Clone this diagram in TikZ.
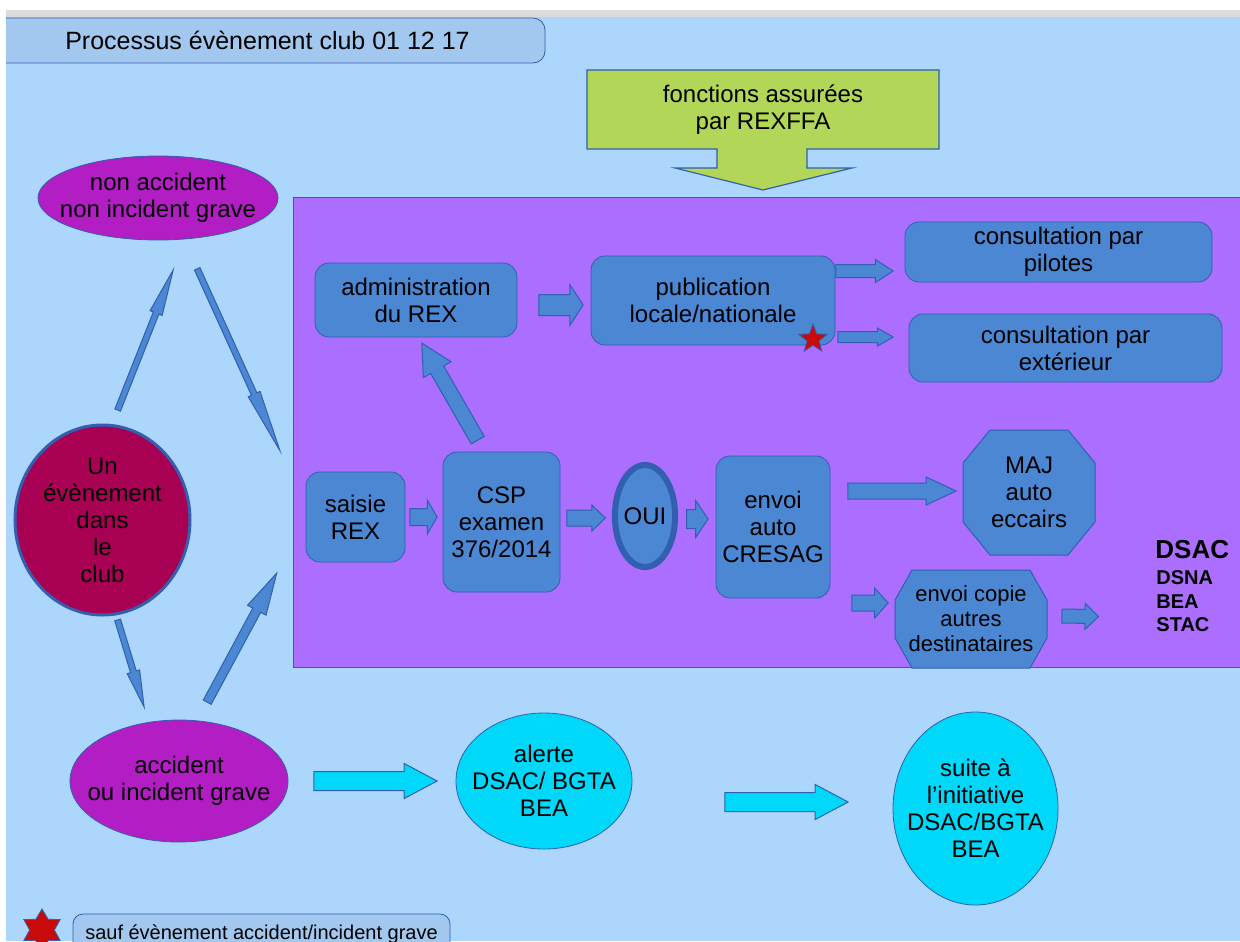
\documentclass[tikz,border=0pt]{standalone}
\usepackage{fontspec}
\setmainfont{Liberation Sans}
\usetikzlibrary{shapes.geometric,shapes.arrows,calc}

\definecolor{fond}{RGB}{173,214,252}
\definecolor{titrefond}{RGB}{162,200,240}
\definecolor{trait}{RGB}{50,95,175}
\definecolor{vert}{RGB}{178,214,88}
\definecolor{violet}{RGB}{171,110,255}
\definecolor{mauve}{RGB}{178,30,195}
\definecolor{bordeaux}{RGB}{168,0,82}
\definecolor{bleubox}{RGB}{75,135,210}
\definecolor{cyanclair}{RGB}{0,216,250}
\definecolor{rougeetoile}{RGB}{200,10,10}

\tikzset{
  boite/.style={draw=trait, fill=bleubox, rounded corners=7pt, align=center, inner sep=0pt},
  ovale/.style={ellipse, draw=trait, align=center, inner sep=0pt},
  fl/.style={single arrow, draw=trait, fill=bleubox, line width=0.5pt, anchor=tail,
    inner xsep=0pt, inner ysep=4pt, single arrow head extend=3.5pt, single arrow tip angle=90},
  fin/.style={fl, inner ysep=1.25pt, single arrow head extend=1.75pt},
  flcyan/.style={fl, fill=cyanclair, inner ysep=4.5pt, single arrow head extend=4pt, single arrow tip angle=56},
  etoile/.style={star, fill=rougeetoile, draw=trait, line width=0.4pt, inner sep=0pt},
}

% block arrow from #2 to #3
\newcommand\fleche[3][]{%
  \path let \p1=(#2), \p2=(#3),
    \n1={veclen(\x2-\x1,\y2-\y1)}, \n2={atan2(\y2-\y1,\x2-\x1)} in
    (\p1) node[fl,#1,minimum height=\n1,rotate=\n2] {};}

\begin{document}
\begin{tikzpicture}[x=0.5pt, y=-0.5pt, every node/.style={font=\fontsize{12}{13.5}\selectfont}]
    \useasboundingbox (0,0) rectangle (1240,941);
    \fill[fond] (0,0) rectangle (1240,941);

    % Title
    \node[draw=trait, fill=titrefond, rounded corners=6pt, minimum width=277.5pt, minimum height=22.5pt,
      font=\fontsize{12.5}{14}\selectfont] (titre) at (267.5,40.5) {Processus évènement club 01 12 17};

    % REXFFA block
    \filldraw[fill=vert, draw=trait, line width=0.6pt] (587,70) -- (939,70) -- (939,149) -- (807,149)
      -- (807,168) -- (852,168) -- (763,190) -- (675,168) -- (717,168) -- (717,149) -- (587,149) -- cycle;
    \node[align=center] (rexffa) at (763,109.5) {fonctions assurées\\par REXFFA};

    % Purple panel
    \node[draw=trait, fill=violet, minimum width=478.5pt, minimum height=235pt] (panel) at (771.5,432) {};

    % Left column
    \node[ovale, fill=mauve, inner xsep=-6.6pt, minimum width=120pt, minimum height=42pt] (nonacc) at (158,198)
      {non accident\\non incident grave};
    \node[ovale, fill=bordeaux, line width=1.5pt, minimum width=87.5pt, minimum height=95pt] (event) at (102.5,520)
      {Un\\évènement\\dans\\le\\club};
    \node[ovale, fill=mauve, inner xsep=-7.2pt, minimum width=109pt, minimum height=61pt] (acc) at (179,781)
      {accident\\ou incident grave};

    % Bottom row
    \node[ovale, fill=cyanclair, inner xsep=-5.2pt, minimum width=88pt, minimum height=68pt] (alerte) at (544,781)
      {alerte\\DSAC/ BGTA\\BEA};
    \node[ovale, fill=cyanclair, inner xsep=-5.5pt, minimum width=82.5pt, minimum height=96.5pt] (suite) at (975.5,808.5)
      {suite à\\l'initiative\\DSAC/BGTA\\BEA};

    % Inside the panel
    \node[boite, minimum width=101pt, minimum height=37pt] (adm) at (416,300) {administration\\du REX};
    \node[boite, minimum width=122pt, minimum height=44.5pt] (pub) at (713,300.5) {publication\\locale/nationale};
    \node[boite, minimum width=153.5pt, minimum height=30pt] (pil) at (1058.5,252) {consultation par\\pilotes};
    \node[boite, minimum width=156.5pt, minimum height=34pt] (ext) at (1065.5,348) {consultation par\\extérieur};
    \node[boite, minimum width=49.5pt, minimum height=45pt] (saisie) at (355.5,517) {saisie\\REX};
    \node[boite, minimum width=58.5pt, minimum height=70pt] (csp) at (501.5,522) {CSP\\examen\\376/2014};
    \node[ovale, fill=bleubox, line width=3pt, minimum width=30pt, minimum height=51pt] (oui) at (645,516) {OUI};
    \node[boite, minimum width=57pt, minimum height=71pt] (cresag) at (773,527) {envoi\\auto\\CRESAG};

    % Octagons
    \filldraw[fill=bleubox, draw=trait, line width=0.5pt] (990,430) -- (1068,430) -- (1095,463) -- (1095,522)
      -- (1068,555) -- (990,555) -- (963,522) -- (963,463) -- cycle;
    \node[align=center, minimum width=66pt, minimum height=62.5pt] (maj) at (1029,492.5) {MAJ\\auto\\eccairs};
    \filldraw[fill=bleubox, draw=trait, line width=0.5pt] (912,570) -- (1030,570) -- (1047,600) -- (1047,638)
      -- (1030,668) -- (912,668) -- (895,638) -- (895,600) -- cycle;
    \node[align=center, minimum width=76pt, minimum height=49pt, font=\fontsize{11}{12.5}\selectfont] (copie)
      at (971,619) {envoi copie\\autres\\destinataires};

    % Recipients
    \node[anchor=base west, inner sep=0pt, font=\bfseries\fontsize{13}{15}\selectfont] (dsac) at (1155,558) {DSAC};
    \node[anchor=north west, align=left, inner sep=0pt, font=\bfseries\fontsize{10}{11.75}\selectfont] (dest)
      at (1156,570.6) {DSNA\\BEA\\STAC};

    % Left arrows
    \fleche[fin, single arrow tip angle=16]{$(event.north)+(15,-13)$}{$(nonacc.south)+(15,30)$}
    \fleche[fin, single arrow tip angle=12]{$(nonacc.south)+(39,28)$}{$(panel.west)+(-13,18)$}
    \fleche[fin, single arrow tip angle=20]{$(event.south)+(15,3)$}{$(acc.north)+(-35,-13)$}
    \fleche[fin, inner ysep=2pt, single arrow head extend=3pt, single arrow tip angle=28]{$(acc.north)+(28,-17)$}{$(panel.south west)+(-16,-94)$}

    % Bottom arrows
    \fleche[flcyan]{$(acc.east)+(25,0)$}{$(alerte.west)+(-19,0)$}
    \fleche[flcyan]{$(alerte.east)+(92,21)$}{$(suite.west)+(-45,-6.5)$}

    % Panel arrows
    \fleche[inner ysep=3.5pt, single arrow head extend=4.25pt, single arrow tip angle=55]{$(csp.north)+(-23.5,-11)$}{$(adm.south)+(6,6)$}
    \fleche[inner ysep=5pt, single arrow head extend=5pt, single arrow tip angle=114]{$(adm.east)+(21,5)$}{$(pub.west)+(-8,4.5)$}
    \fleche[inner ysep=3pt, single arrow head extend=2.5pt, single arrow tip angle=66]{$(pub.east)+(0,-29.5)$}{$(pil.west)+(-12,19)$}
    \fleche[inner ysep=2.5pt, single arrow head extend=1.75pt, single arrow tip angle=60]{$(pub.east)+(2,36.5)$}{$(ext.west)+(-16,-11)$}
    \fleche[inner ysep=4pt, single arrow head extend=4.25pt, single arrow tip angle=120]{$(saisie.east)+(4,0)$}{$(csp.west)+(-6,-5)$}
    \fleche[inner ysep=3.75pt, single arrow head extend=2.5pt, single arrow tip angle=88]{$(csp.east)+(6,-4)$}{$(oui.west)+(-7,2)$}
    \fleche[inner ysep=4.5pt, single arrow head extend=4.5pt, single arrow tip angle=112]{$(oui.east)+(8,3)$}{$(cresag.west)+(-8,-8)$}
    \fleche[inner ysep=3.75pt, single arrow head extend=3pt, single arrow tip angle=50]{$(cresag.east)+(17,-36)$}{$(maj.west)+(-7,-1.5)$}
    \fleche[inner ysep=3.75pt, single arrow head extend=3.5pt, single arrow tip angle=96]{$(cresag.east)+(21,76)$}{$(copie.west)+(-7,-16)$}
    \fleche[inner ysep=3.25pt, single arrow head extend=3pt, single arrow tip angle=88]{$(copie.east)+(14,-3)$}{$(dest.west)+(-58,15)$}

    % Stars and legend
    \node[etoile, star points=5, star point ratio=2.4, minimum size=15pt] (etoilepub) at (813,339) {};
    \node[etoile, star points=6, star point ratio=1.7, minimum size=21pt] (etoileleg) at (42,930) {};
    \node[draw=trait, fill=titrefond, rounded corners=5pt, minimum width=188.5pt, minimum height=20.5pt,
      font=\fontsize{10}{12}\selectfont] (legende) at (261.5,934.5) {sauf évènement accident/incident grave};

    % Edges of the screenshot
    \fill[white] (0,0) rectangle (1240,10);
    \fill[black!14] (0,10) rectangle (1240,17);
    \fill[white] (0,10) rectangle (6,941);
\end{tikzpicture}
\end{document}
